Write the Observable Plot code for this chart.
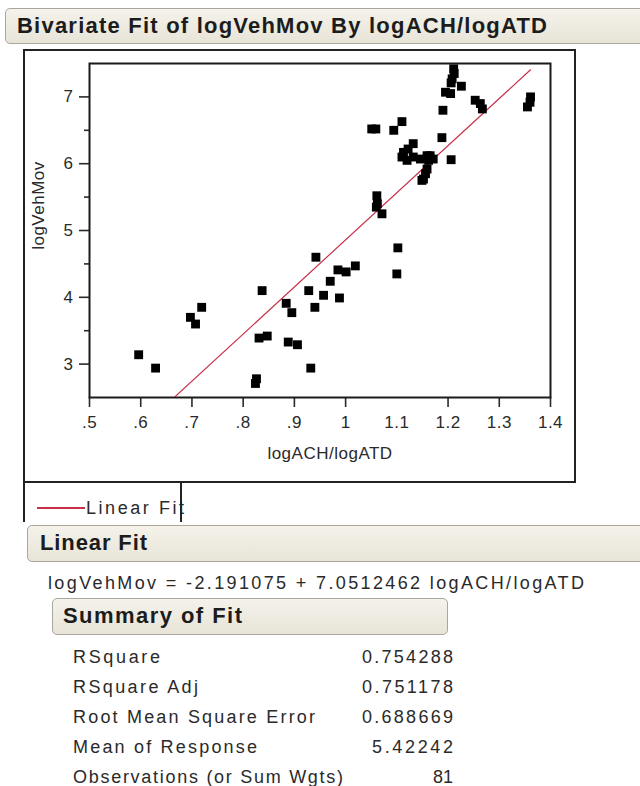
<!DOCTYPE html>
<html><head><meta charset="utf-8">
<script src="https://cdn.jsdelivr.net/npm/d3@7"></script>
<script src="https://cdn.jsdelivr.net/npm/@observablehq/plot@0.6"></script>
<style>
html,body{margin:0;padding:0;background:#fff;}
body{width:640px;height:786px;position:relative;overflow:hidden;font-family:"Liberation Sans",Arial,sans-serif;color:#222;}
.abs{position:absolute;white-space:nowrap;line-height:24px;}
.bar{position:absolute;box-sizing:border-box;background:linear-gradient(#f4f2ea,#e8e4d8);border:1px solid #a9a69b;border-radius:5px;}
.hdr{font-weight:bold;font-size:22px;color:#1c1c1c;}
.txt{font-size:18px;color:#2a2a2a;}
#chart{position:absolute;left:23px;top:49px;}
#chart svg text{letter-spacing:0.5px;}
</style></head><body>
<div class="bar" style="left:5px;top:8px;width:680px;height:36px;"></div>
<div class="abs hdr" id="title" data-w="530" style="left:17px;top:14px;"></div>

<div id="chart"></div>
<div style="position:absolute;left:23px;top:49px;width:553px;height:434px;box-sizing:border-box;border:2px solid #222;"></div>
<div style="position:absolute;left:37px;top:507px;width:48px;height:2px;background:#c8304a;"></div>
<div class="abs txt" id="legend" data-w="98" style="left:86px;top:496px;"></div>
<div style="position:absolute;left:23px;top:482px;width:159px;height:40px;box-sizing:border-box;border-left:2px solid #222;border-right:2px solid #222;"></div>

<div class="bar" style="left:27px;top:525px;width:680px;height:37px;"></div>
<div class="abs hdr" id="lfHead" data-w="107" style="left:40px;top:531px;"></div>
<div class="abs txt" id="equation" data-w="536" style="left:48px;top:571px;"></div>

<div class="bar" style="left:52px;top:598px;width:396px;height:37px;"></div>
<div class="abs hdr" id="sumHead" data-w="179" style="left:63px;top:604px;"></div>
<div id="rows"></div>

<script>
// ---- data ----
const titleText = "Bivariate Fit of logVehMov By logACH/logATD";
const xName = "logACH/logATD";
const yName = "logVehMov";
const fitName = "Linear Fit";
const intercept = -2.191075;
const slopeText = "7.0512462";
const slope = 7.0512462;

const xs = [0.596,0.629,0.719,0.697,0.707,0.837,0.831,0.847,0.826,0.824,
            0.884,0.895,0.888,0.906,0.932,0.928,0.942,0.940,0.957,0.970,
            0.985,1.001,1.019,0.988,1.102,1.100,1.061,1.062,1.060,1.071,
            1.059,1.051,1.110,1.094,1.132,1.122,1.113,1.110,1.120,1.132,
            1.146,1.159,1.162,1.171,1.206,1.159,1.156,1.152,1.149,1.188,
            1.190,1.195,1.205,1.226,1.211,1.212,1.208,1.206,1.253,1.263,
            1.267,1.361,1.360,1.355,1.165];
const ys = [3.14,2.94,3.85,3.70,3.60,4.10,3.39,3.42,2.78,2.71,
            3.91,3.77,3.33,3.29,2.94,4.10,4.60,3.85,4.03,4.24,
            4.41,4.38,4.47,3.99,4.74,4.35,5.52,5.40,5.35,5.25,
            6.52,6.52,6.63,6.50,6.30,6.22,6.17,6.10,6.05,6.10,
            6.07,6.12,6.05,6.07,6.06,5.92,5.85,5.77,5.75,6.39,
            6.80,7.07,7.05,7.16,7.42,7.35,7.27,7.21,6.95,6.90,
            6.82,7.00,6.92,6.85,6.12];

const xDomain = [0.5, 1.4];
const yDomain = [2.5, 7.5];
const xTicks = [0.5,0.6,0.7,0.8,0.9,1,1.1,1.2,1.3,1.4];
const xTickLabels = [".5",".6",".7",".8",".9","1","1.1","1.2","1.3","1.4"];
const xTickMarks = [0.5,0.6,0.7,0.8,0.9,1,1.2,1.3,1.4];
const yTicks = [3,4,5,6,7];
const yTickLabels = ["3","4","5","6","7"];
const yMinorTicks = [3.5,4.5,5.5,6.5];

const summaryLabels = ["RSquare","RSquare Adj","Root Mean Square Error","Mean of Response","Observations (or Sum Wgts)"];
const summaryValues = ["0.754288","0.751178","0.688669","5.42242","81"];

// ---- text ----
document.getElementById("title").textContent = titleText;
document.getElementById("legend").textContent = fitName;
document.getElementById("lfHead").textContent = fitName;
document.getElementById("sumHead").textContent = "Summary of Fit";
document.getElementById("equation").textContent =
  `${yName} = ${intercept} + ${slopeText} ${xName}`;

const labelW = [87,125,242,184,270];
const valueW = [91,91,91,81,20];
const rows = document.getElementById("rows");
summaryLabels.forEach((lab, i) => {
  const top = 645 + i * 30;
  const a = document.createElement("div");
  a.className = "abs txt"; a.textContent = lab; a.dataset.w = labelW[i];
  a.style.left = "73px"; a.style.top = top + "px";
  rows.appendChild(a);
  const b = document.createElement("div");
  b.className = "abs txt"; b.textContent = summaryValues[i]; b.dataset.w = valueW[i];
  b.dataset.right = "453";
  b.style.top = top + "px";
  rows.appendChild(b);
});

// ---- chart ----
const points = xs.map((x, i) => ({x, y: ys[i]}));
const fitX = d3.extent(xs);
const fitPts = fitX.map(x => ({x, y: intercept + slope * x}));
const xLabelMap = new Map(xTicks.map((t, i) => [t, xTickLabels[i]]));
const yLabelMap = new Map(yTicks.map((t, i) => [t, yTickLabels[i]]));

const chart = Plot.plot({
  width: 553, height: 434,
  marginLeft: 66, marginRight: 26, marginTop: 14, marginBottom: 86,
  x: {domain: xDomain},
  y: {domain: yDomain},
  style: {fontFamily: "Liberation Sans, Arial, sans-serif", fontSize: "17px", color: "#2a2a2a", background: "transparent", overflow: "visible"},
  marks: [
    Plot.axisX(xTickMarks, {tickSize: 10, text: null, label: null, strokeWidth: 1.6}),
    Plot.axisX(xTicks, {tickSize: 0, tickPadding: 18, label: null, tickFormat: d => xLabelMap.get(d)}),
    Plot.axisY(yTicks, {tickSize: 10, tickPadding: 6, label: null, strokeWidth: 1.6, tickFormat: d => yLabelMap.get(d)}),
    Plot.axisY(yMinorTicks, {tickSize: 5, text: null, label: null, strokeWidth: 1.6}),
    Plot.frame({stroke: "#1a1a1a", strokeWidth: 2}),
    Plot.line(fitPts, {x: "x", y: "y", stroke: "#c8304a", strokeWidth: 1.2, clip: true}),
    Plot.dot(points, {x: "x", y: "y", symbol: "square", r: 5, fill: "#000"}),
    Plot.text([xName], {frameAnchor: "bottom", textAnchor: "middle", lineAnchor: "middle", dx: 10, dy: 56, fontSize: 17}),
    Plot.text([yName], {frameAnchor: "left", textAnchor: "middle", lineAnchor: "middle", dx: -51, dy: -25, rotate: -90, fontSize: 17})
  ]
});
document.getElementById("chart").appendChild(chart);

// ---- fit text widths ----
document.querySelectorAll("[data-w]").forEach(el => {
  el.style.letterSpacing = "0px";
  if (el.dataset.right) el.style.left = "0px";
  const w = el.getBoundingClientRect().width;
  const n = el.textContent.length;
  const ls = n > 1 ? (+el.dataset.w - w) / (n - 1) : 0;
  el.style.letterSpacing = ls + "px";
  if (el.dataset.right) {
    const w2 = el.getBoundingClientRect().width - ls;
    el.style.left = (+el.dataset.right - w2) + "px";
  }
});
</script>
</body></html>
